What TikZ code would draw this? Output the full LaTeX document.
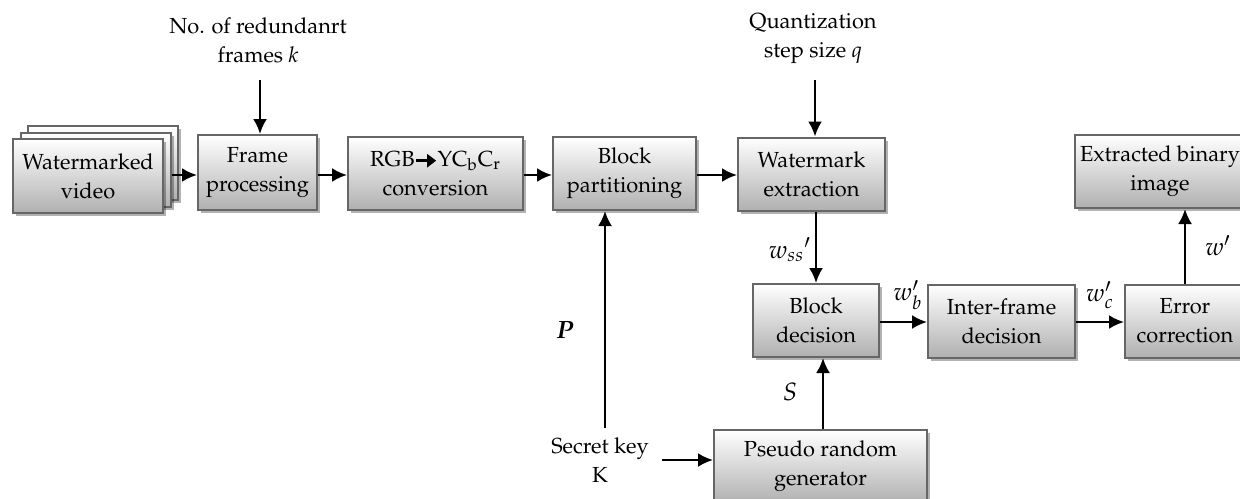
\documentclass[tikz,border=0pt]{standalone}
\usepackage[T1]{fontenc}
\usepackage{mathpazo}
\usepackage{bm}
\usetikzlibrary{arrows.meta,shadows}
\newcommand{\boldarrow}{\tikz[baseline=-0.55ex]\draw[line width=1.5pt,-{Triangle[length=4.5pt,width=6.5pt]}] (0pt,0pt) -- (10pt,0pt);}
\begin{document}
\begin{tikzpicture}[x=0.5pt,y=-0.5pt,
  font=\fontsize{10.9}{14.5}\selectfont,
  box/.style={draw=gray!80!black, line width=1pt, top color=white,
    bottom color=gray!62, align=center, minimum height=36.5pt, inner sep=1pt,
    drop shadow={shadow xshift=1.6pt, shadow yshift=-1.6pt, fill=black, opacity=0.3}},
  arr/.style={-{Latex[length=7.5pt,width=7pt]}, line width=1.2pt},
  lbl/.style={align=center, inner sep=0pt},
  sym/.style={inner sep=0pt, font=\fontsize{12.5}{14}\selectfont}]
\useasboundingbox (0,0) rectangle (1240,498);

% stacked video frames
\node[box, minimum width=75pt, minimum height=37pt] (vback) at (103,163) {};
\node[box, minimum width=75pt, minimum height=37pt] (vmid) at (96,170) {};
\node[box, minimum width=75pt, minimum height=37pt] (vid) at (88,176) {Watermarked\\video};

% top row
\node[box, minimum width=59.5pt, minimum height=37.5pt] (frame) at (257.5,172.5) {Frame\\processing};
\node[box, minimum width=87.5pt] (rgb) at (435.5,173.5) {RGB\boldarrow YC$_{\mathrm{b}}$C$_{\mathrm{r}}$\\conversion};
\node[box, minimum width=71.5pt] (part) at (624.5,173.5) {Block\\partitioning};
\node[box, minimum width=73.5pt] (wext) at (811.5,174) {Watermark\\extraction};
\node[box, minimum width=85pt] (bin) at (1160,171.5) {Extracted binary\\image};

% bottom row
\node[box, minimum width=63pt] (bdec) at (816,320.5) {Block\\decision};
\node[box, minimum width=73.5pt] (inter) at (1001.5,321) {Inter-frame\\decision};
\node[box, minimum width=60pt] (err) at (1185,321) {Error\\correction};
\node[box, minimum width=106.5pt] (prng) at (820.5,466.5) {Pseudo random\\generator};

% free text
\node[lbl] (kin) at (258,40) {No. of redundanrt\\frames \textit{k}};
\node[lbl] (qin) at (813,39) {Quantization\\step size \textit{q}};
\node[lbl] (key) at (600,460) {Secret key\\K};

% input points
\coordinate (kt) at (260,80);
\coordinate (qt) at (815,80);

% connectors
\draw[arr] (kt) -- (kt |- frame.north);
\draw[arr] (qt) -- (qt |- wext.north);
\draw[arr] (vmid.east |- 0,175) -- (frame.west |- 0,175);
\draw[arr] (frame.east |- 0,175) -- (rgb.west |- 0,175);
\draw[arr] (rgb.east |- 0,175) -- (part.west |- 0,175);
\draw[arr] (part.east |- 0,175) -- (wext.west |- 0,175);
\draw[arr] (816,0 |- wext.south) -- (816,0 |- bdec.north);
\draw[arr] (bdec.east |- 0,322) -- (inter.west |- 0,322);
\draw[arr] (inter.east |- 0,322) -- (err.west |- 0,322);
\draw[arr] (err.north) -- (err.north |- bin.south);
\draw[arr] (823,0 |- prng.north) -- (823,0 |- bdec.south);
\draw[arr] (605,428) -- (605,0 |- part.south);
\draw[arr] (662,460) -- (prng.west |- 0,460);

% signal labels
\node[sym] (wss) at (790,250) {$w_{ss}{}'$};
\node[sym] (wb) at (908,295) {$w'_b$};
\node[sym] (wc) at (1100,295) {$w'_c$};
\node[sym] (wo) at (1218,246) {$w'$};
\node[sym] (plbl) at (565,330) {$\bm{P}$};
\node[sym] (slbl) at (790,392) {$S$};
\end{tikzpicture}
\end{document}
